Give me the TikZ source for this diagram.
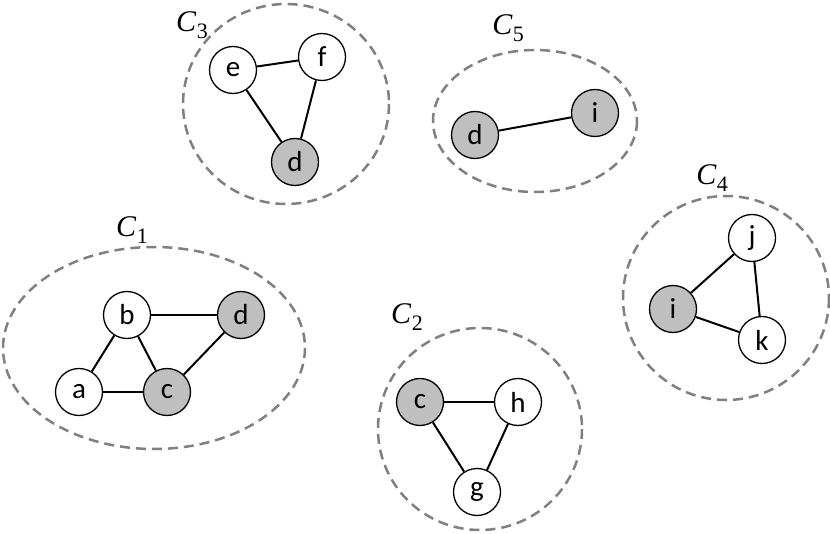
\documentclass[tikz,border=0pt]{standalone}
\usepackage{fontspec}
\setmainfont{Carlito}
\newfontfamily\lblfont{Liberation Serif}
\definecolor{ringgray}{RGB}{128,128,128}
\definecolor{fillgray}{RGB}{191,191,191}
\newcommand{\clabel}[1]{{\fontsize{30}{34}\selectfont\lblfont\itshape C}\kern0.5pt\raisebox{-7pt}{\fontsize{22}{24}\selectfont\lblfont #1}}
\tikzset{
  vtx/.style={circle, draw=black, line width=1.3pt, fill=white, minimum size=47pt, inner sep=0pt, font=\fontsize{29}{32}\selectfont},
  shaded/.style={vtx, fill=fillgray},
  edge/.style={line width=2pt},
  ring/.style={draw=ringgray, dash pattern=on 10pt off 6pt, line width=2.5pt},
  lbl/.style={inner sep=0pt}
}
\begin{document}
\begin{tikzpicture}[x=1pt,y=-1pt]
\useasboundingbox (0,0) rectangle (830,534);
% C3
\draw[ring] (286,104) ellipse [x radius=103, y radius=100];
\node[lbl] (l3) at (192,25) {\clabel{3}};
\node[vtx] (e3) at (233,70) {e};
\node[vtx] (f3) at (322,57) {f};
\node[shaded] (d3) at (295,162) {d};
\draw[edge] (e3) -- (f3);
\draw[edge] (e3) -- (d3);
\draw[edge] (f3) -- (d3);
% C5
\draw[ring] (535,121) ellipse [x radius=102, y radius=71];
\node[lbl] (l5) at (508,28) {\clabel{5}};
\node[shaded] (d5) at (475,135) {d};
\node[shaded] (i5) at (595,113) {i};
\draw[edge] (d5) -- (i5);
% C1
\draw[ring] (154,348) ellipse [x radius=151, y radius=101];
\node[lbl] (l1) at (132,230) {\clabel{1}};
\node[vtx] (b1) at (127,315) {b};
\node[shaded] (d1) at (241,315) {d};
\node[vtx] (a1) at (79,392) {a};
\node[shaded] (c1) at (167,392) {c};
\draw[edge] (b1) -- (d1);
\draw[edge] (a1) -- (b1);
\draw[edge] (b1) -- (c1);
\draw[edge] (a1) -- (c1);
\draw[edge] (c1) -- (d1);
% C2
\draw[ring] (480,429) ellipse [x radius=102, y radius=101];
\node[lbl] (l2) at (407,317) {\clabel{2}};
\node[shaded] (c2) at (420,402) {c};
\node[vtx] (h2) at (518,402) {h};
\node[vtx] (g2) at (477,492) {g};
\draw[edge] (c2) -- (h2);
\draw[edge] (c2) -- (g2);
\draw[edge] (h2) -- (g2);
% C4
\draw[ring] (726,298) ellipse [x radius=103, y radius=102];
\node[lbl] (l4) at (712,178) {\clabel{4}};
\node[vtx] (j4) at (752,238) {j};
\node[shaded] (i4) at (673,309) {i};
\node[vtx] (k4) at (762,340) {k};
\draw[edge] (i4) -- (j4);
\draw[edge] (j4) -- (k4);
\draw[edge] (i4) -- (k4);
\end{tikzpicture}
\end{document}
